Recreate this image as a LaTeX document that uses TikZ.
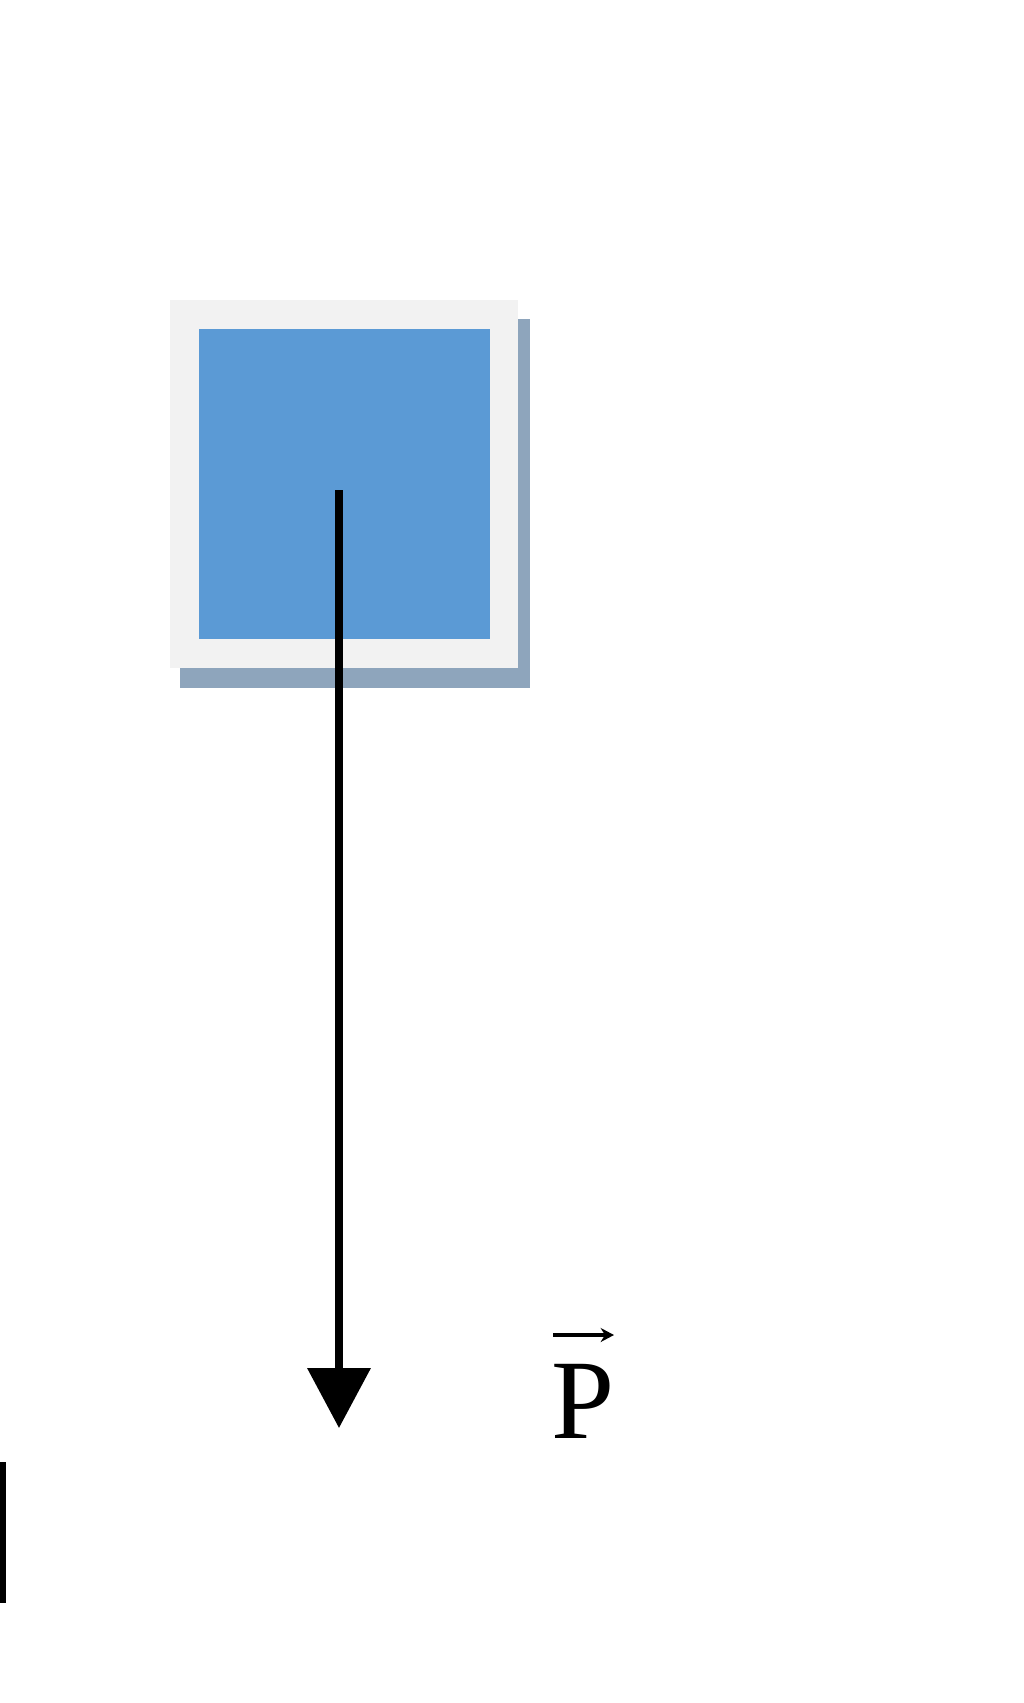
\documentclass[tikz,border=0pt]{standalone}
\usepackage{fontspec}
\setmainfont{Liberation Serif}
\usetikzlibrary{arrows.meta,calc}
\definecolor{boxblue}{RGB}{91,154,213}
\definecolor{boxrim}{RGB}{242,242,242}
\definecolor{boxshadow}{RGB}{142,165,188}
\tikzset{
  px/.style={x=0.75pt,y=-0.75pt},
  force/.style={line width=5.4pt, black, -{Triangle[length=45pt,width=46.5pt]}},
  vecarrow/.style={line width=2.6pt, black, -{Stealth[length=10pt,width=10.5pt]}},
  lbl/.style={inner sep=0pt, font=\fontsize{85}{85}\selectfont}
}
\begin{document}
\begin{tikzpicture}[px]
\useasboundingbox (0,0) rectangle (1024,1703);
% shadow
\fill[boxshadow] (180,319) rectangle (530,688);
% rim
\node[fill=boxrim, inner sep=0pt, minimum width=348*0.75pt, minimum height=368*0.75pt, anchor=north west] (rim) at (170,300) {};
% blue body
\node[fill=boxblue, inner sep=0pt, minimum width=291*0.75pt, minimum height=310*0.75pt, anchor=north west] (body) at (199,329) {};
\coordinate (start) at (339,490);
\coordinate (tip) at (339,1428);
\draw[force] (start) -- (tip);
\node[lbl, anchor=base west] (P) at (551,1438) {P};
\coordinate (va) at ($(P.base west)+(2,-103)$);
\coordinate (vb) at ($(P.base west)+(63,-103)$);
\draw[vecarrow] (va) -- (vb);
\node[fill=black, inner sep=0pt, minimum width=6*0.75pt, minimum height=141*0.75pt, anchor=north west] (bar) at (0,1462) {};
\end{tikzpicture}
\end{document}
